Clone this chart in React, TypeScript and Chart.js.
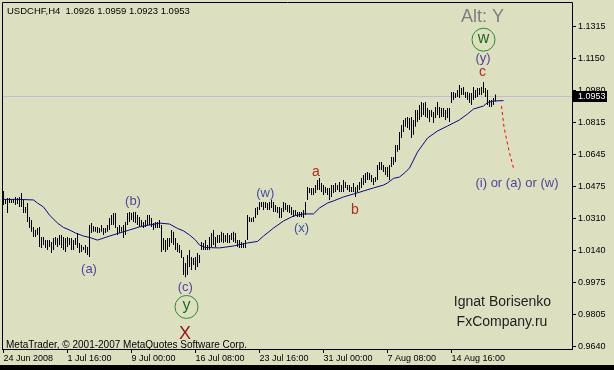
import React, { useEffect, useRef } from 'react';
import { Chart, registerables } from 'chart.js';

Chart.register(...registerables);

// ---------------- data ----------------
const TITLE = 'USDCHF,H4  1.0926 1.0959 1.0923 1.0953';
const LAST_PRICE = 1.0953;

const HIGHS = [
  1.0454, 1.0412, 1.0417, 1.0417, 1.0407, 1.0412, 1.0423, 1.0417, 1.0423, 1.0443,
  1.0407, 1.0370, 1.0391, 1.0318, 1.0302, 1.0266, 1.0250, 1.0260, 1.0266, 1.0213,
  1.0213, 1.0197, 1.0197, 1.0197, 1.0187, 1.0208, 1.0213, 1.0208, 1.0224, 1.0224,
  1.0213, 1.0208, 1.0213, 1.0208, 1.0208, 1.0197, 1.0208, 1.0234, 1.0182, 1.0171,
  1.0161, 1.0171, 1.0161, 1.0276, 1.0286, 1.0271, 1.0266, 1.0266, 1.0260,
  1.0276, 1.0260, 1.0260, 1.0276, 1.0312, 1.0328, 1.0339, 1.0339, 1.0266, 1.0276,
  1.0266, 1.0276, 1.0292, 1.0339, 1.0344, 1.0339, 1.0344, 1.0344, 1.0328, 1.0318,
  1.0302, 1.0292, 1.0302, 1.0328, 1.0328, 1.0312, 1.0286, 1.0292, 1.0292, 1.0302,
  1.0276, 1.0208, 1.0197, 1.0208, 1.0208, 1.0250, 1.0240, 1.0208, 1.0182, 1.0171,
  1.0145, 1.0109, 1.0077, 1.0119, 1.0145, 1.0109, 1.0103, 1.0109, 1.0129, 1.0119,
  1.0187, 1.0182, 1.0197, 1.0171, 1.0213, 1.0234, 1.0250, 1.0213, 1.0224, 1.0224,
  1.0240, 1.0234, 1.0224, 1.0234, 1.0224, 1.0234, 1.0240, 1.0234, 1.0197, 1.0197,
  1.0187, 1.0182, 1.0197, 1.0328, 1.0318, 1.0312, 1.0318, 1.0365, 1.0370, 1.0396,
  1.0396, 1.0396, 1.0396, 1.0391, 1.0396, 1.0407, 1.0396, 1.0381, 1.0370, 1.0370,
  1.0365, 1.0396, 1.0391, 1.0381, 1.0381, 1.0370, 1.0355, 1.0355, 1.0344, 1.0344,
  1.0344, 1.0355, 1.0396, 1.0475, 1.0470, 1.0470, 1.0470, 1.0485, 1.0512, 1.0522,
  1.0496, 1.0485, 1.0475, 1.0470, 1.0470, 1.0485, 1.0485, 1.0496, 1.0485, 1.0501,
  1.0485, 1.0512, 1.0501, 1.0485, 1.0485, 1.0475, 1.0496, 1.0475, 1.0485, 1.0501,
  1.0522, 1.0538, 1.0548, 1.0553, 1.0548, 1.0538, 1.0522, 1.0527, 1.0590, 1.0606,
  1.0606, 1.0590, 1.0580, 1.0580, 1.0590, 1.0632, 1.0632, 1.0695, 1.0695, 1.0763,
  1.0800, 1.0826, 1.0836, 1.0841, 1.0836, 1.0841, 1.0826, 1.0878, 1.0878, 1.0904,
  1.0920, 1.0914, 1.0920, 1.0888, 1.0878, 1.0878, 1.0867, 1.0893, 1.0920, 1.0893,
  1.0888, 1.0888, 1.0878, 1.0888, 1.0888, 1.0972, 1.0972, 1.0967, 1.0983, 1.1009,
  1.0993, 1.0998, 1.0972, 1.0972, 1.0967, 1.0967, 1.0998, 1.0983, 1.0993, 1.0993,
  1.0998, 1.1025, 1.0993, 1.0983, 1.0930, 1.0930, 1.0941, 1.0959,
];

const LOWS = [
  1.0381, 1.0386, 1.0339, 1.0391, 1.0391, 1.0391, 1.0381, 1.0386, 1.0370, 1.0370,
  1.0339, 1.0339, 1.0292, 1.0260, 1.0240, 1.0213, 1.0213, 1.0224, 1.0161, 1.0156,
  1.0171, 1.0156, 1.0145, 1.0161, 1.0129, 1.0145, 1.0171, 1.0161, 1.0171, 1.0156,
  1.0145, 1.0135, 1.0161, 1.0171, 1.0145, 1.0145, 1.0171, 1.0156, 1.0129, 1.0135,
  1.0145, 1.0129, 1.0119, 1.0109, 1.0234, 1.0240, 1.0240, 1.0234, 1.0234,
  1.0240, 1.0224, 1.0234, 1.0240, 1.0250, 1.0276, 1.0276, 1.0260, 1.0224, 1.0234,
  1.0240, 1.0208, 1.0224, 1.0276, 1.0292, 1.0302, 1.0292, 1.0286, 1.0276, 1.0266,
  1.0266, 1.0260, 1.0266, 1.0276, 1.0276, 1.0266, 1.0250, 1.0260, 1.0260, 1.0260,
  1.0135, 1.0145, 1.0135, 1.0145, 1.0161, 1.0182, 1.0171, 1.0145, 1.0135, 1.0129,
  1.0103, 1.0014, 1.0003, 1.0014, 1.0056, 1.0040, 1.0066, 1.0040, 1.0056, 1.0077,
  1.0145, 1.0145, 1.0145, 1.0145, 1.0145, 1.0161, 1.0171, 1.0161, 1.0182, 1.0182,
  1.0187, 1.0182, 1.0187, 1.0182, 1.0182, 1.0197, 1.0187, 1.0182, 1.0161, 1.0156,
  1.0156, 1.0156, 1.0156, 1.0197, 1.0292, 1.0292, 1.0292, 1.0312, 1.0328, 1.0355,
  1.0370, 1.0355, 1.0365, 1.0355, 1.0355, 1.0365, 1.0344, 1.0344, 1.0339, 1.0312,
  1.0312, 1.0344, 1.0355, 1.0344, 1.0339, 1.0328, 1.0318, 1.0328, 1.0318, 1.0318,
  1.0318, 1.0312, 1.0328, 1.0407, 1.0443, 1.0433, 1.0433, 1.0443, 1.0459, 1.0459,
  1.0449, 1.0433, 1.0443, 1.0433, 1.0407, 1.0423, 1.0443, 1.0449, 1.0459, 1.0449,
  1.0449, 1.0449, 1.0470, 1.0459, 1.0449, 1.0449, 1.0449, 1.0423, 1.0449, 1.0459,
  1.0470, 1.0485, 1.0496, 1.0512, 1.0512, 1.0501, 1.0485, 1.0501, 1.0512, 1.0564,
  1.0564, 1.0553, 1.0538, 1.0527, 1.0512, 1.0580, 1.0590, 1.0606, 1.0659, 1.0669,
  1.0732, 1.0763, 1.0790, 1.0784, 1.0773, 1.0732, 1.0748, 1.0790, 1.0815, 1.0826,
  1.0841, 1.0852, 1.0841, 1.0836, 1.0815, 1.0841, 1.0810, 1.0836, 1.0852, 1.0836,
  1.0841, 1.0841, 1.0826, 1.0836, 1.0815, 1.0914, 1.0930, 1.0941, 1.0946, 1.0941,
  1.0956, 1.0956, 1.0941, 1.0930, 1.0914, 1.0904, 1.0930, 1.0941, 1.0946, 1.0956,
  1.0956, 1.0967, 1.0946, 1.0904, 1.0893, 1.0893, 1.0904, 1.0923,
];

// moving average, read at selected bars (bar index, value)
const MA_INDEX = [
  0, 8, 15, 17, 20, 23, 27, 30, 33, 36, 40, 43, 47, 53, 58, 63, 68, 73, 78, 83,
  87, 90, 93, 96, 98, 101, 108, 115, 122, 127, 130, 135, 140, 145, 150, 155, 158, 162, 165, 170,
  175, 180, 185, 190, 192, 195, 198, 201, 203, 207, 212, 217, 222, 228, 232, 235, 240, 242, 245, 250,
];
const MA_VALUES = [
  1.0410, 1.0410, 1.0407, 1.0391, 1.0370, 1.0328, 1.0286, 1.0263, 1.0250, 1.0234, 1.0218, 1.0211, 1.0197, 1.0218, 1.0234, 1.0250, 1.0266, 1.0276, 1.0286, 1.0281,
  1.0258, 1.0245, 1.0224, 1.0197, 1.0171, 1.0158, 1.0156, 1.0166, 1.0182, 1.0190, 1.0218, 1.0260, 1.0297, 1.0323, 1.0334, 1.0334, 1.0365, 1.0391, 1.0402, 1.0423,
  1.0438, 1.0454, 1.0470, 1.0485, 1.0496, 1.0520, 1.0527, 1.0553, 1.0574, 1.0658, 1.0731, 1.0768, 1.0794, 1.0826, 1.0857, 1.0883, 1.0899, 1.0917, 1.0925, 1.0927,
];

// red dotted projection
const PROJ_INDEX = [249, 250.25, 252.75, 255];
const PROJ_VALUES = [1.0899, 1.0789, 1.0663, 1.0574];

const X_TICK_INDEX = [0, 32, 64, 96, 128, 160, 192, 224];
const X_TICK_LABELS = [
  '24 Jun 2008', '1 Jul 16:00', '9 Jul 00:00', '16 Jul 08:00',
  '23 Jul 16:00', '31 Jul 00:00', '7 Aug 08:00', '14 Aug 16:00',
];
const Y_TICKS = [0.9640, 0.9805, 0.9975, 1.0140, 1.0310, 1.0475, 1.0645, 1.0815, 1.0980, 1.1150, 1.1315];

// ---------------- styles ----------------
const BG = '#DDE0C0';
const FONT = '"Liberation Sans", Arial, sans-serif';
const PURPLE = '#553F9C';
const BLUE = '#40509E';
const RED = '#A8301E';
const DKRED = '#8E1A16';
const GREEN = '#2F8A2F';
const DKGREEN = '#1E6B1E';

const WAVE_LABELS = [
  { text: '(a)', at: 42.75, price: 1.0046, color: PURPLE, size: 13, circle: false },
  { text: '(b)', at: 64.75, price: 1.0402, color: PURPLE, size: 13, circle: false },
  { text: '(c)', at: 90.9, price: 0.9951, color: PURPLE, size: 13, circle: false },
  { text: 'y', at: 91.5, price: 0.9847, color: DKGREEN, size: 16, circle: true },
  { text: 'X', at: 90.75, price: 0.9705, color: DKRED, size: 18, circle: false },
  { text: '(w)', at: 130.9, price: 1.0442, color: BLUE, size: 13, circle: false },
  { text: '(x)', at: 149, price: 1.0259, color: BLUE, size: 13, circle: false },
  { text: 'a', at: 156.25, price: 1.0553, color: RED, size: 14, circle: false },
  { text: 'b', at: 175.75, price: 1.0355, color: RED, size: 14, circle: false },
  { text: 'c', at: 239.5, price: 1.1077, color: RED, size: 14, circle: false },
  { text: '(y)', at: 239.75, price: 1.1148, color: PURPLE, size: 13, circle: false },
  { text: 'w', at: 240, price: 1.1246, color: DKGREEN, size: 16, circle: true },
  { text: '(i) or (a) or (w)', at: 256.75, price: 1.0496, color: PURPLE, size: 13, circle: false },
];

const decorPlugin = {
  id: 'decor',
  beforeDraw(chart: any) {
    const ctx = chart.ctx;
    ctx.save();
    ctx.fillStyle = BG;
    ctx.fillRect(0, 0, chart.width, chart.height);
    ctx.restore();
  },
  beforeDatasetsDraw(chart: any) {
    const ctx = chart.ctx;
    const { left, right } = chart.chartArea;
    const y = Math.round(chart.scales.y.getPixelForValue(LAST_PRICE)) + 0.5;
    ctx.save();
    ctx.strokeStyle = '#BEBECC';
    ctx.lineWidth = 1;
    ctx.beginPath();
    ctx.moveTo(left, y);
    ctx.lineTo(right, y);
    ctx.stroke();
    ctx.restore();
  },
  afterDraw(chart: any) {
    const ctx = chart.ctx;
    const xs = chart.scales.x;
    const ys = chart.scales.y;
    ctx.save();
    // frame
    ctx.strokeStyle = '#000';
    ctx.lineWidth = 1;
    ctx.beginPath();
    ctx.moveTo(2.5, 350);
    ctx.lineTo(2.5, 2.5);
    ctx.lineTo(572.5, 2.5);
    ctx.lineTo(572.5, 349.5);
    ctx.lineTo(2.5, 349.5);
    ctx.stroke();

    // wave labels
    ctx.textAlign = 'center';
    ctx.textBaseline = 'middle';
    for (const l of WAVE_LABELS) {
      const px = xs.getPixelForValue(l.at);
      const py = ys.getPixelForValue(l.price);
      ctx.font = `${l.size}px ${FONT}`;
      ctx.fillStyle = l.color;
      ctx.fillText(l.text, px, py + (l.circle ? -1 : 0));
      if (l.circle) {
        ctx.beginPath();
        ctx.strokeStyle = GREEN;
        ctx.lineWidth = 1;
        ctx.arc(px, py, 11.5, 0, Math.PI * 2);
        ctx.stroke();
      }
    }

    // screen text objects
    ctx.font = `18px ${FONT}`;
    ctx.fillStyle = '#7E7E7E';
    ctx.fillText('Alt: Y', 482.5, 17);

    ctx.font = `14px ${FONT}`;
    ctx.fillStyle = '#1E1E1E';
    ctx.fillText('Ignat Borisenko', 502.5, 302.5);
    ctx.fillText('FxCompany.ru', 502, 322.5);

    ctx.textAlign = 'left';
    ctx.fillStyle = '#000';
    ctx.font = `9.5px ${FONT}`;
    ctx.fillText(TITLE, 7, 11);
    ctx.font = `10px ${FONT}`;
    ctx.fillText('MetaTrader, \u00A9 2001-2007 MetaQuotes Software Corp.', 6, 345);

    // last price box
    const py = Math.round(ys.getPixelForValue(LAST_PRICE));
    ctx.font = `9px ${FONT}`;
    ctx.fillStyle = '#000';
    ctx.fillRect(573, py - 5, 34, 11);
    ctx.fillStyle = '#FFF';
    ctx.fillText(LAST_PRICE.toFixed(4), 578, py + 0.5);

    // bottom band
    ctx.fillStyle = '#000';
    ctx.fillRect(0, 365, chart.width, 5);
    ctx.restore();
  },
};

export default function App() {
  const ref = useRef<HTMLCanvasElement>(null);
  useEffect(() => {
    const canvas = ref.current;
    if (!canvas) return;
    const bars = HIGHS.map((h, i) => ({ x: i, y: [LOWS[i], h] }));
    const ma = MA_INDEX.map((x, k) => ({ x, y: MA_VALUES[k] }));
    const proj = PROJ_INDEX.map((x, k) => ({ x, y: PROJ_VALUES[k] }));
    const tickFont = { family: FONT, size: 9 };
    const chart = new Chart(canvas, {
      type: 'bar',
      data: {
        datasets: [
          {
            type: 'line',
            data: proj,
            borderColor: '#FF0000',
            borderWidth: 1,
            borderDash: [3, 3],
            pointRadius: 0,
            fill: false,
            order: 0,
          } as any,
          {
            type: 'line',
            data: ma,
            borderColor: '#0A0A80',
            borderWidth: 1,
            pointRadius: 0,
            tension: 0,
            fill: false,
            order: 1,
          } as any,
          {
            type: 'bar',
            data: bars as any,
            backgroundColor: '#000',
            borderWidth: 0,
            barThickness: 1,
            inflateAmount: 0,
            order: 2,
          } as any,
        ],
      },
      options: {
        responsive: false,
        devicePixelRatio: 1,
        animation: false,
        layout: { padding: { left: 3, top: 3, right: 0, bottom: 0 } },
        plugins: { legend: { display: false }, tooltip: { enabled: false } },
        events: [],
        scales: {
          x: {
            type: 'linear',
            position: 'bottom',
            offset: false,
            min: -0.25,
            max: 284.25,
            afterBuildTicks: (s: any) => {
              s.ticks = X_TICK_INDEX.map((v) => ({ value: v }));
            },
            afterFit: (s: any) => {
              s.height = 21;
              s.paddingLeft = 0;
              s.paddingRight = 0;
            },
            ticks: {
              autoSkip: false,
              maxRotation: 0,
              minRotation: 0,
              align: 'start',
              padding: 0,
              color: '#000',
              font: tickFont,
              callback: (_v: any, idx: number) => X_TICK_LABELS[idx] ?? '',
            },
            grid: { display: true, drawOnChartArea: false, drawTicks: true, tickLength: 4, color: '#000', offset: false },
            border: { display: true, color: '#000' },
          },
          y: {
            type: 'linear',
            position: 'right',
            min: 0.962691,
            max: 1.143801,
            afterBuildTicks: (s: any) => {
              s.ticks = Y_TICKS.map((v) => ({ value: v }));
            },
            afterFit: (s: any) => {
              s.width = 42;
              s.paddingTop = 0;
              s.paddingBottom = 0;
            },
            ticks: {
              autoSkip: false,
              padding: 2,
              color: '#000',
              font: tickFont,
              callback: (v: any) => Number(v).toFixed(4),
            },
            grid: { display: true, drawOnChartArea: false, drawTicks: true, tickLength: 4, color: '#000' },
            border: { display: true, color: '#000' },
          },
        },
      } as any,
      plugins: [decorPlugin],
    });
    return () => chart.destroy();
  }, []);
  return (
    <div style={{ position: 'fixed', left: 0, top: 0, width: 614, height: 370, background: BG }}>
      <canvas ref={ref} width={614} height={370} style={{ display: 'block', width: 614, height: 370 }} />
    </div>
  );
}
